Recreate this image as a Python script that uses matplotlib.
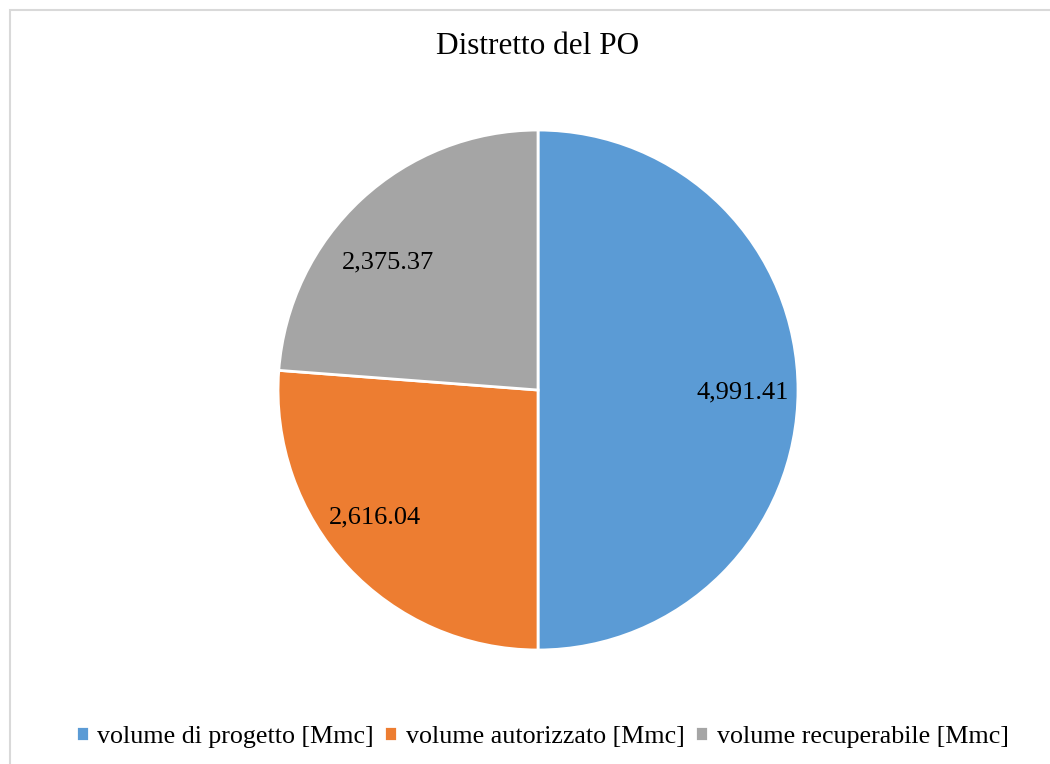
import matplotlib.pyplot as plt
from matplotlib.patches import Rectangle

# dati
categorie = ['volume di progetto [Mmc]', 'volume autorizzato [Mmc]', 'volume recuperabile [Mmc]']
valori = [4991.41, 2616.04, 2375.37]
colori = ['#5B9BD5', '#ED7D31', '#A5A5A5']
titolo = 'Distretto del PO'

# posizione delle etichette dentro le fette (coordinate dell'asse, raggio = 1)
pos_etichette = [(0.788, -0.008), (-0.627, -0.492), (-0.577, 0.492)]

plt.rcParams['font.family'] = ['Liberation Serif', 'DejaVu Serif']

fig = plt.figure(figsize=(10.5, 7.64), dpi=100)

# cornice grigia (tagliata a destra e in basso come nell'originale)
fig.patches.append(Rectangle((10 / 1050, -0.1), 1.2, (754 / 764) + 0.1,
                             transform=fig.transFigure, fill=False,
                             edgecolor='#D9D9D9', linewidth=1.5))

ax = fig.add_axes([0.2648, 0.1492, 0.4952, 0.6806])
totale = sum(valori)
wedges, _, autotexts = ax.pie(
    valori, colors=colori, startangle=90, counterclock=False,
    autopct=lambda p: f'{p * totale / 100:,.2f}', pctdistance=0.79,
    wedgeprops=dict(edgecolor='white', linewidth=2),
    textprops=dict(fontsize=19, color='black'))
for t, xy in zip(autotexts, pos_etichette):
    t.set_position(xy)
ax.set_xlim(-1, 1)
ax.set_ylim(-1, 1)
ax.set_aspect('equal')

fig.text(538 / 1050, 1 - 47 / 764, titolo, ha='center', va='center', fontsize=22.5)

fig.legend(wedges, categorie, loc='center', bbox_to_anchor=(542 / 1050, 1 - 737 / 764),
           ncol=3, frameon=False, fontsize=18.7, handlelength=0.5, handleheight=0.5,
           handletextpad=0.32, columnspacing=0.42)

plt.savefig('out.png', dpi=100)
plt.close()
